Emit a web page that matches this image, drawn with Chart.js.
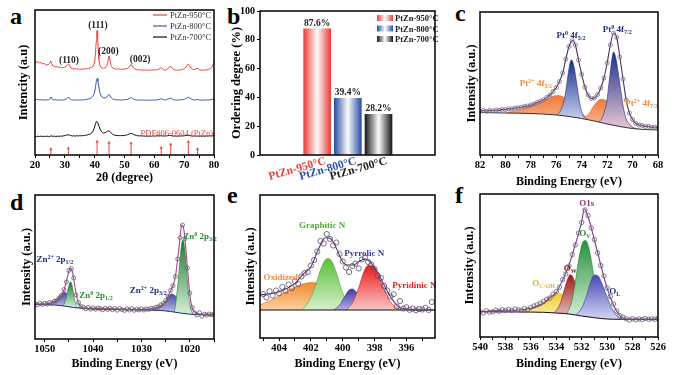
<!DOCTYPE html>
<html>
<head>
<meta charset="utf-8">
<script src="https://cdn.jsdelivr.net/npm/chart.js@4.4.1/dist/chart.umd.min.js"></script>
<style>
body { margin: 0; background: #fff; width: 691px; height: 375px; position: relative; overflow: hidden; }
canvas { position: absolute; }
.tag { position: absolute; font: bold 24px "Liberation Serif", serif; line-height: 24px; color: #000; }
</style>
</head>
<body>
<div class="tag" style="left:10px;top:4px">a</div>
<div class="tag" style="left:227px;top:4px">b</div>
<div class="tag" style="left:455px;top:1px">c</div>
<div class="tag" style="left:10px;top:190px">d</div>
<div class="tag" style="left:227px;top:183px">e</div>
<div class="tag" style="left:455px;top:183px">f</div>
<canvas id="ca" width="228" height="190" style="left:0;top:0"></canvas>
<canvas id="cb" width="225" height="200" style="left:225px;top:0"></canvas>
<canvas id="cc" width="241" height="190" style="left:450px;top:0"></canvas>
<canvas id="cd" width="228" height="190" style="left:0;top:185px"></canvas>
<canvas id="ce" width="225" height="190" style="left:225px;top:185px"></canvas>
<canvas id="cf" width="241" height="190" style="left:450px;top:185px"></canvas>
<script>
// ---------- data ----------
// a: XRD patterns (2theta, intensity with offsets)
const xrdNames = ['PtZn-950°C', 'PtZn-800°C', 'PtZn-700°C'];
const xrdColors = ['#e8473f', '#3a5da8', '#111111'];
const xrd950 = [[20,93.5],[20.5,92.8],[21,93.2],[21.5,92],[22,92.4],[22.5,91.2],[23,91.6],[23.5,90.5],[24,90],[24.5,90.6],[25,92],[25.3,94],[25.6,91.5],[26,89],[26.5,88.6],[27,88],[27.5,88.4],[28,87.5],[28.5,87.8],[29,87.2],[29.5,87.6],[30,87.8],[30.5,88.8],[31,90.5],[31.3,91],[31.7,89],[32,87],[32.5,86.4],[33,86],[33.5,86.5],[34,85.8],[34.5,86.2],[35,85.6],[35.5,86],[36,85.7],[36.5,86.3],[37,86],[37.5,86.5],[38,86.6],[38.5,87.2],[39,87.8],[39.5,89],[40,93],[40.3,102],[40.5,113],[40.7,123],[40.85,124.5],[41,117],[41.2,105],[41.4,96],[41.7,90],[42,88],[42.5,87],[43,86.8],[43.5,87.2],[44,88.5],[44.4,93],[44.7,98.5],[44.9,99],[45.2,94],[45.5,89.5],[46,87],[46.5,86.3],[47,86],[47.5,85.8],[48,86.2],[48.5,85.6],[49,85.9],[49.5,85.7],[50,86],[50.5,86.2],[51,86.5],[51.5,87.5],[52,90],[52.3,90.8],[52.6,89],[53,87],[53.5,86],[54,85.5],[54.5,85.2],[55,85],[55.5,85.3],[56,84.8],[56.5,85.1],[57,84.9],[57.5,85],[58,84.7],[58.5,85],[59,84.8],[59.5,85.1],[60,85],[60.5,85.3],[61,85.2],[61.5,85.8],[62,86.8],[62.4,87.5],[62.8,86],[63.2,85],[63.6,84.8],[64,85.2],[64.5,86.2],[65,88],[65.5,88.8],[66,86.8],[66.5,85.5],[67,85],[67.5,84.8],[68,84.9],[68.5,85],[69,85.2],[69.5,85.6],[70,86.2],[70.5,87.5],[71,89.5],[71.4,91],[71.8,89.5],[72.3,87],[72.8,85.8],[73.3,85.5],[73.8,85.8],[74.3,86.6],[74.7,86.4],[75.2,85.2],[75.7,84.8],[76.2,85],[76.7,84.8],[77.2,85],[77.7,85.2],[78.2,85.6],[78.7,86.2],[79.2,87.5],[79.6,90],[80,92.5]];
const xrd800 = [[20,55.8],[20.5,55.2],[21,55.6],[21.5,55],[22,55.4],[22.5,54.8],[23,55.3],[23.5,54.9],[24,55.2],[24.5,55],[25,56],[25.4,58],[25.8,55.6],[26.3,55],[27,55.3],[27.5,54.8],[28,55.1],[28.5,54.9],[29,55.2],[29.5,55],[30,55.4],[30.5,56],[31,57.2],[31.4,57.6],[31.8,56],[32.3,55.2],[33,54.9],[33.5,55.2],[34,54.8],[34.5,55.1],[35,54.9],[35.5,55.2],[36,55],[36.5,55.3],[37,55.5],[37.5,55.8],[38,56],[38.5,56.6],[39,57.5],[39.5,59],[40,63],[40.3,68.5],[40.6,74.5],[40.85,76.5],[41.1,74],[41.4,68],[41.7,63],[42,60],[42.5,57.8],[43,57.2],[43.5,57],[44,57.8],[44.4,59.5],[44.8,60.5],[45.2,59],[45.6,57],[46,56],[46.5,55.5],[47,55.2],[47.5,55],[48,55.3],[48.5,54.9],[49,55.2],[49.5,55],[50,55.3],[50.5,55.4],[51,55.6],[51.5,56.2],[52,57],[52.4,57.4],[52.8,56.3],[53.3,55.5],[54,55],[55,54.8],[55.5,55.1],[56,54.9],[56.5,55.1],[57,54.8],[57.5,55],[58,54.7],[58.5,55],[59,54.8],[59.5,55.1],[60,54.9],[60.5,55],[61,55.2],[61.5,55.4],[62,55.9],[62.5,56.2],[63,55.4],[63.5,55],[64,55.2],[64.5,55.8],[65,56.5],[65.5,57],[66,56],[66.5,55.3],[67,55],[67.5,54.9],[68,55.1],[68.5,55],[69,55.2],[69.5,55.3],[70,55.7],[70.5,56.3],[71,57.2],[71.5,57.8],[72,56.8],[72.5,55.8],[73,55.2],[73.5,55],[74,55.3],[74.5,55.6],[75,55],[75.5,54.8],[76,55],[77,54.9],[77.5,55.1],[78,55],[78.5,55.2],[79,55.4],[79.5,55.8],[80,56]];
const xrd700 = [[20,18.8],[20.5,18.2],[21,18.9],[21.5,18.4],[22,19],[22.5,18.3],[23,18.8],[23.5,18.5],[24,18.9],[24.5,18.4],[25,18.7],[25.5,19.2],[26,18.6],[26.5,18.9],[27,18.5],[27.5,18.9],[28,18.6],[28.5,19],[29,18.7],[29.5,19.2],[30,19.4],[30.5,19.8],[31,20.2],[31.5,20],[32,19.4],[32.5,19],[33,19.2],[33.5,18.9],[34,19.3],[34.5,19],[35,19.4],[35.5,19.1],[36,19.5],[36.5,19.3],[37,19.8],[37.5,20],[38,20.5],[38.5,21],[39,22],[39.5,24],[40,28],[40.3,31.5],[40.6,33.5],[40.9,33],[41.2,31],[41.5,28.5],[41.8,26],[42.2,23.8],[42.6,22.5],[43,22],[43.5,22.3],[44,23.2],[44.4,24],[44.8,24.2],[45.2,23.2],[45.6,21.8],[46,20.8],[46.5,20],[47,19.6],[47.5,19.4],[48,19.5],[48.5,19.2],[49,19.5],[49.5,19.3],[50,19.6],[50.5,19.8],[51,20.3],[51.5,21],[52,21.6],[52.5,21.4],[53,20.6],[53.5,20],[54,19.6],[54.5,19.2],[55,19],[55.5,19.3],[56,18.9],[56.5,19.1],[57,18.8],[57.5,19],[58,18.7],[58.5,19],[59,18.8],[59.5,19.1],[60,18.9],[60.5,19],[61,19.2],[61.5,19],[62,19.3],[62.5,19.1],[63,18.9],[63.5,19.1],[64,19],[64.5,19.3],[65,19.6],[65.5,19.5],[66,19.1],[66.5,18.9],[67,19],[67.5,18.8],[68,19],[68.5,18.9],[69,19.1],[69.5,19],[70,19.2],[70.5,19.4],[71,19.6],[71.5,19.7],[72,19.3],[72.5,19],[73,18.9],[73.5,19.1],[74,18.8],[74.5,19],[75,18.8],[75.5,19],[76,18.7],[76.5,19],[77,18.8],[77.5,19.1],[78,18.9],[78.5,19.2],[79,19],[79.5,19.3],[80,19.4]];
const pdfPos = [25.3, 31.2, 40.8, 44.8, 52.2, 62.3, 65.5, 71.4, 74.5];
const pdfHeight = [6, 6.7, 13.3, 12.3, 11.7, 7.3, 10.7, 13.3, 6];
const aTicks = [20, 25, 30, 35, 40, 45, 50, 55, 60, 65, 70, 75, 80];

// b: ordering degree
const bNames = ['PtZn-950°C', 'PtZn-800°C', 'PtZn-700°C'];
const bValues = [87.6, 39.4, 28.2];
const bColors = ['#e8403c', '#2b4ea5', '#1a1a1a'];

// c: Pt 4f
const cRaw = [[82,43.5],[81.75,44.5],[81.5,43.8],[81.25,44.6],[81,44.2],[80.75,45],[80.5,44.6],[80.25,45.6],[80,45.4],[79.75,46.2],[79.5,46],[79.25,47],[79,47.2],[78.75,47.8],[78.5,48.6],[78.25,49],[78,50],[77.75,51],[77.5,52.5],[77.25,53.8],[77,55.2],[76.75,57.5],[76.5,60],[76.25,63.5],[76,67.5],[75.75,73.5],[75.5,82],[75.25,96],[75,108.5],[74.75,114.5],[74.5,110],[74.25,95],[74,80.5],[73.75,68],[73.5,60],[73.25,56.5],[73,57],[72.75,60.5],[72.5,67],[72.25,77],[72,92],[71.75,110],[71.5,122],[71.25,117.5],[71,98],[70.75,76],[70.5,55],[70.25,42],[70,35.5],[69.75,31.5],[69.5,30],[69.25,29.5],[69,28.5],[68.75,28.8],[68.5,27.8],[68.25,28],[68,27.2]];
const cBack = [[82,42.5],[80,42],[78,41.5],[76,40],[75,38.5],[74,36.5],[73,34],[72,31],[71,28.5],[70,26.5],[69,25.5],[68,25]];
const cPt2a = [[80,42],[79,45],[78,49],[77,54],[76.5,57.5],[76,59.5],[75.6,59],[75.2,56],[74.8,53],[74.4,47],[74,42],[73.6,37],[73.2,34],[73,33.5]];
const cPt2b = [[74,36],[73.4,42],[73,50],[72.5,55.7],[72,54],[71.5,48],[71,40],[70.5,33],[70,28],[69.5,26],[69,25]];
const cPt0a = [[76,39.5],[75.6,46],[75.3,60],[75.1,78],[74.9,93],[74.8,95],[74.6,88],[74.4,72],[74.2,55],[74,43],[73.8,38],[73.5,35]];
const cPt0b = [[72.7,32],[72.3,40],[72,56],[71.8,78],[71.6,98],[71.5,103],[71.3,96],[71.1,80],[70.9,62],[70.7,46],[70.5,36],[70.2,30],[69.9,27],[69.5,25.5]];
const cTicks = [82, 81, 80, 79, 78, 77, 76, 75, 74, 73, 72, 71, 70, 69, 68];

// d: Zn 2p
const dRaw = [[1052,35.5],[1051.5,34.2],[1051,35.8],[1050.5,34.6],[1050,35.9],[1049.5,35],[1049,36.4],[1048.5,36],[1048,37.8],[1047.5,38.5],[1047,41.2],[1046.5,44],[1046,49.5],[1045.5,57],[1045,68.5],[1044.5,70.5],[1044,61],[1043.5,44],[1043,36.5],[1042.5,32.5],[1042,31.8],[1041.5,30.2],[1041,31.6],[1040.5,30],[1040,31.2],[1039.5,29.8],[1039,31],[1038.5,30.4],[1038,29.2],[1037.5,30.8],[1037,29.6],[1036.5,30.9],[1036,29.3],[1035.5,30.5],[1035,28.8],[1034.5,30.6],[1034,29.4],[1033.5,28.6],[1033,30.2],[1032.5,29],[1032,30.4],[1031.5,28.7],[1031,29.9],[1030.5,29.1],[1030,30.3],[1029.5,28.9],[1029,30.1],[1028.5,29.6],[1028,30.8],[1027.5,30.4],[1027,31.8],[1026.5,32.3],[1026,34],[1025.5,35.8],[1025,38.6],[1024.5,42.4],[1024,48.5],[1023.5,53.2],[1023,62.5],[1022.5,80],[1022,101.5],[1021.5,114],[1021,100.5],[1020.5,71],[1020,46],[1019.5,31.5],[1019,26],[1018.5,24],[1018,26.2],[1017.5,22.8],[1017,24.8],[1016.5,23.9],[1016,25],[1015.5,24.2],[1015,24.6]];
const dFit = [[1052,35],[1050,35],[1049,35.5],[1048,37],[1047,40.5],[1046,49],[1045.5,58],[1045,68],[1044.7,71],[1044.3,68],[1044,60],[1043.5,45],[1043,36],[1042.5,32],[1042,31],[1040,30.5],[1035,30],[1030,29.5],[1028,30],[1027,31],[1026,33.5],[1025,38],[1024.5,43],[1024,48],[1023.5,53],[1023,62],[1022.5,80],[1022,102],[1021.7,114],[1021.3,111],[1021,100],[1020.5,72],[1020,45],[1019.5,31],[1019,27],[1018,25],[1016,24.5],[1015,24]];
const dBack = [[1052,34.5],[1048,34],[1046,33],[1044,31.5],[1042,30.5],[1040,30],[1035,29.5],[1030,29],[1026,28.5],[1024,27.5],[1022,26],[1020,24.8],[1018,24.3],[1015,24]];
const dZn2a = [[1049.5,34],[1048.5,36.5],[1047.5,40],[1046.5,45],[1046,46.5],[1045.5,46],[1045,43.5],[1044.5,39.5],[1044,35],[1043.5,32],[1043,31]];
const dZn0a = [[1046.3,33],[1045.8,37],[1045.3,47],[1044.9,55],[1044.6,57],[1044.3,53],[1044,44],[1043.6,35],[1043.2,31]];
const dZn2b = [[1028,28.8],[1027,30.5],[1026,33],[1025,38],[1024.3,43],[1023.8,45],[1023.2,44],[1022.5,40],[1021.8,34],[1021,29],[1020,24.8]];
const dZn0b = [[1023.2,27],[1022.8,40],[1022.4,58],[1022,80],[1021.7,95],[1021.4,99],[1021.1,92],[1020.8,76],[1020.4,52],[1020,35],[1019.6,27],[1019.2,24.5]];
const dTicks = [1050, 1045, 1040, 1035, 1030, 1025, 1020, 1015];

// e: N 1s
const eRaw = [[405,44],[404.8,40.5],[404.6,46.8],[404.4,42.5],[404.2,47.5],[404,44.8],[403.8,51],[403.6,47.2],[403.4,53.5],[403.2,50],[403,56.8],[402.8,54],[402.6,61.5],[402.4,64.8],[402.2,66],[402,72.5],[401.8,78],[401.6,86.5],[401.4,97],[401.2,94.5],[401,104],[400.8,99],[400.6,92.5],[400.4,95.5],[400.2,84],[400,76.5],[399.8,70.5],[399.6,66],[399.4,72],[399.2,74.5],[399,69.5],[398.8,78.5],[398.6,80.5],[398.4,76],[398.2,73.5],[398,69],[397.8,62.5],[397.6,60],[397.4,52],[397.2,47.5],[397,41.5],[396.8,43.8],[396.6,31.5],[396.4,37],[396.2,29.5],[396,30.8],[395.8,28.2],[395.6,29.5],[395.4,27.8],[395.2,29],[395,28.5],[394.8,30.2],[394.6,28],[394.4,36]];
const eFit = [[405.2,43],[404,46.3],[403,54.7],[402.5,63.7],[402,71.3],[401.5,89.7],[401.1,100.3],[400.8,99.7],[400.4,89.7],[400,76.3],[399.7,73],[399.3,73],[399,76.3],[398.6,79],[398.2,74.7],[397.8,65.7],[397.4,53],[397,41.3],[396.5,31.3],[396,29],[395,28],[394.2,28]];
const eBack = [[405.2,28],[394.2,28]];
const eOxid = [[405.2,33],[404.5,38],[404,42],[403.5,47],[403,51],[402.5,54],[402,55.5],[401.5,54.5],[401,50.5],[400.5,44],[400,37],[399.5,31.5],[399,28.5],[398.6,27.5]];
const eGraph = [[402.6,28],[402.2,35],[401.8,48],[401.4,68],[401.1,78],[400.9,79.5],[400.6,74],[400.3,60],[400,45],[399.7,34],[399.3,28.5],[399,27.5]];
const ePyrr = [[400.6,27.5],[400.2,33],[399.9,41],[399.6,48],[399.4,49],[399.1,45],[398.8,37],[398.4,30.5],[398,27.5]];
const ePyri = [[399.8,28],[399.4,35],[399,50],[398.7,65],[398.4,72.5],[398.1,72],[397.8,64],[397.4,49],[397,36],[396.6,30],[396.2,27.5]];
const eTicks = [405, 404, 403, 402, 401, 400, 399, 398, 397, 396, 395];

// f: O 1s
const fRaw = [[540,25.5],[539.75,24],[539.5,26.2],[539.25,24.8],[539,25.2],[538.75,26.8],[538.5,25.8],[538.25,27.2],[538,26.5],[537.75,27.5],[537.5,26.6],[537.25,28],[537,27.2],[536.75,26.8],[536.5,28.4],[536.25,27.6],[536,29.6],[535.75,31],[535.5,32.2],[535.25,33.8],[535,35.5],[534.75,37.8],[534.5,39],[534.25,42.8],[534,45.5],[533.75,49.8],[533.5,57.5],[533.25,63],[533,71],[532.75,82.5],[532.5,92],[532.25,104],[532,114.5],[531.75,127],[531.5,121.5],[531.25,109],[531,97.5],[530.75,84],[530.5,71.5],[530.25,61],[530,49],[529.75,40.5],[529.5,33],[529.25,26],[529,21.5],[528.75,19.8],[528.5,18.2],[528.25,17],[528,18.3],[527.75,17.2],[527.5,18],[527.25,17.4],[527,18.5],[526.75,17.6],[526.5,18.2],[526.25,17.8],[526,18.8]];
const fFit = [[540,25.3],[538,26.7],[537,27],[536,28.7],[535,33.7],[534.5,39.3],[534,44.7],[533.5,57],[533,72],[532.5,92.7],[532,115.3],[531.8,128],[531.5,120.3],[531,97],[530.5,72],[530,48.7],[529.5,32],[529,21.3],[528.5,18],[528,17.7],[526,17.7]];
const fBack = [[540,25.3],[537,25],[535,24.7],[534,24],[533,23],[532,21],[531,19.3],[530,18],[529,17.7],[526,17.7]];
const fCOH = [[537,25],[536.5,27],[536,29],[535.5,32],[535,36],[534.5,40.5],[534,43.5],[533.5,42.5],[533,37],[532.5,30],[532,23.5],[531.5,19.5]];
const fOw = [[534.2,23.5],[533.7,33],[533.4,46],[533.1,58],[532.9,62.5],[532.6,57],[532.3,44],[532,31],[531.7,23],[531.4,19.5]];
const fOv = [[533.2,22.5],[532.8,35],[532.5,55],[532.2,80],[531.9,95],[531.7,96.5],[531.4,87],[531.1,65],[530.8,42],[530.5,27],[530.2,19]];
const fOl = [[532.5,21.5],[532,29],[531.6,42],[531.3,55],[531,62],[530.7,61],[530.4,53],[530,40],[529.6,28],[529.2,20.5],[528.8,17.5]];
const fTicks = [540, 539, 538, 537, 536, 535, 534, 533, 532, 531, 530, 529, 528, 527, 526];

// ---------- helpers ----------
const FONT = '"Liberation Serif", "Times New Roman", serif';
Chart.defaults.font.family = FONT;
Chart.defaults.color = '#000';
Chart.defaults.animation = false;
Chart.defaults.events = [];
Chart.defaults.devicePixelRatio = 1;
Chart.defaults.plugins.legend.display = false;
Chart.defaults.plugins.tooltip.enabled = false;
Chart.defaults.elements.point.radius = 0;

// text with super/subscripts, parts = [[text, ''|'sup'|'sub'], ...]
function rich(ctx, parts, x, y, size, color, align, weight) {
  const w8 = weight || 'bold';
  const big = `${w8} ${size}px ${FONT}`, small = `${w8} ${Math.round(size * 0.62)}px ${FONT}`;
  let w = 0;
  parts.forEach(([t, m]) => { ctx.font = m ? small : big; w += ctx.measureText(t).width; });
  let cx = align === 'left' ? x : align === 'right' ? x - w : x - w / 2;
  ctx.fillStyle = color;
  ctx.textAlign = 'left';
  ctx.textBaseline = 'alphabetic';
  parts.forEach(([t, m]) => {
    ctx.font = m ? small : big;
    const dy = m === 'sup' ? -size * 0.4 : m === 'sub' ? size * 0.22 : 0;
    ctx.fillText(t, cx, y + dy);
    cx += ctx.measureText(t).width;
  });
}

// frame + text notes placed in data units
function decor(notes, extra) {
  return {
    id: 'decor',
    afterDraw(chart) {
      const { ctx, chartArea: a, scales } = chart;
      ctx.save();
      (notes || []).forEach(n => {
        const px = scales.x.getPixelForValue(n.x), py = scales.y.getPixelForValue(n.y);
        rich(ctx, n.parts, px, py + n.size * 0.35, n.size, n.color, n.align, n.weight);
      });
      if (extra) extra(chart, ctx, a);
      ctx.lineWidth = 1.5;
      ctx.strokeStyle = '#000';
      ctx.strokeRect(a.left, a.top, a.right - a.left, a.bottom - a.top);
      ctx.restore();
    }
  };
}

// fitted component, vertical gradient from its peak down to its foot
function comp(data, c1, c2, edge) {
  const ys = data.map(p => p[1]);
  const top = Math.max(...ys), bot = Math.min(...ys);
  return {
    data, pointRadius: 0, borderWidth: 0.6, borderColor: edge || c1,
    cubicInterpolationMode: 'monotone', fill: 'origin',
    backgroundColor: c => {
      const ch = c.chart, y = ch.scales.y;
      if (!y || !ch.chartArea) return c1;
      const g = ch.ctx.createLinearGradient(0, y.getPixelForValue(top), 0, y.getPixelForValue(bot));
      g.addColorStop(0, c1);
      g.addColorStop(1, c2);
      return g;
    }
  };
}

// background line; white fill below it hides the component feet
function back(data, color) {
  return { data, pointRadius: 0, borderWidth: 1, borderColor: color, cubicInterpolationMode: 'monotone', fill: 'origin', backgroundColor: '#fff' };
}

function raw(data, color, r, line) {
  return {
    data, showLine: !!line, borderColor: line || color, borderWidth: 1.1,
    cubicInterpolationMode: 'monotone',
    pointRadius: r, pointBorderWidth: 0.8, pointBorderColor: color, pointBackgroundColor: 'rgba(255,255,255,0)'
  };
}

function fitLine(data, color) {
  return { data, pointRadius: 0, borderWidth: 1.1, borderColor: color, cubicInterpolationMode: 'monotone' };
}

function spectrum(o) {
  return {
    type: 'line',
    data: { datasets: o.datasets },
    options: {
      responsive: false,
      layout: { padding: { top: o.pad[0], right: o.pad[1], left: 0, bottom: 0 } },
      scales: {
        x: {
          type: 'linear', reverse: !!o.reverse, min: o.min, max: o.max,
          afterBuildTicks: s => { s.ticks = o.ticks.map(v => ({ value: v })); },
          afterFit: s => { s.height = o.xh; },
          ticks: { autoSkip: false, maxRotation: 0, minRotation: 0, padding: 1, font: { size: 10.5, weight: 'bold' },
            callback: v => (v % o.every === 0 ? v : '') },
          grid: { drawOnChartArea: false, tickLength: 3, color: '#000' },
          border: { display: false },
          title: { display: true, text: o.xtitle, font: { size: 12, weight: 'bold' }, padding: { top: 0, bottom: o.xtp } }
        },
        y: {
          min: 0, max: o.ymax,
          afterFit: s => { s.width = o.yw; },
          ticks: { display: false }, grid: { display: false }, border: { display: false },
          title: { display: true, text: o.ytitle, font: { size: 12.5, weight: 'bold' }, padding: { top: o.ytp, bottom: 0 } }
        }
      }
    },
    plugins: [decor(o.notes, o.extra)]
  };
}

// ---------- a ----------
const aNotes = [
  { x: 31.4, y: 95, parts: [['(110)', '']], size: 9.5, color: '#222' },
  { x: 41.1, y: 130, parts: [['(111)', '']], size: 9.5, color: '#222' },
  { x: 44.6, y: 104, parts: [['(200)', '']], size: 9.5, color: '#222' },
  { x: 55.2, y: 96, parts: [['(002)', '']], size: 9.5, color: '#222' },
  { x: 79.7, y: 22, parts: [['PDF#06-0604 (PtZn)', '']], size: 8.5, color: '#e8473f', align: 'right', weight: 'normal' }
];
const aLegend = (chart, ctx, a) => {
  xrdNames.forEach((n, i) => {
    const y = a.top + 5 + i * 11;
    ctx.strokeStyle = xrdColors[i];
    ctx.lineWidth = 1.2;
    ctx.beginPath(); ctx.moveTo(a.right - 61, y); ctx.lineTo(a.right - 47, y); ctx.stroke();
    rich(ctx, [[n, '']], a.right - 44, y + 3, 8.5, '#333', 'left', 'normal');
  });
};
new Chart(document.getElementById('ca'), spectrum({
  min: 20, max: 80, ticks: aTicks, every: 10, ymax: 145,
  pad: [10, 14], yw: 35, xh: 35, xtp: 5, ytp: 16,
  xtitle: '2θ (degree)', ytitle: 'Intencity (a.u)',
  notes: aNotes, extra: aLegend,
  datasets: [
    { data: xrd950, borderColor: xrdColors[0], borderWidth: 1, pointRadius: 0 },
    { data: xrd800, borderColor: xrdColors[1], borderWidth: 1, pointRadius: 0 },
    { data: xrd700, borderColor: xrdColors[2], borderWidth: 1, pointRadius: 0 },
    { data: pdfPos.map((x, i) => [x, pdfHeight[i]]), showLine: false, pointStyle: 'triangle', pointRadius: 1.4,
      pointBackgroundColor: '#e8473f', pointBorderColor: '#e8473f', pointBorderWidth: 0.5 },
    { data: pdfPos.flatMap((x, i) => [[x, 0], [x, pdfHeight[i]], [x, null]]), borderColor: '#e8473f', borderWidth: 1, spanGaps: false, pointRadius: 0 }
  ]
}));

// ---------- b ----------
const bExtra = (chart, ctx, a) => {
  const bars = chart.getDatasetMeta(0).data;
  bars.forEach((el, i) => {
    rich(ctx, [[bValues[i].toFixed(1) + '%', '']], el.x, el.y - 3, 9.5, '#222', 'center');
    // rotated category label under each bar
    ctx.save();
    ctx.translate(el.x + 7, a.bottom + 1);
    ctx.rotate(-16 * Math.PI / 180);
    rich(ctx, [[bNames[i], '']], 0, 8, 11.5, bColors[i], 'right');
    ctx.restore();
  });
  bNames.forEach((n, i) => {
    const y = a.top + 4 + i * 10.5, x = a.right - 58;
    const g = ctx.createLinearGradient(x, 0, x + 16, 0);
    g.addColorStop(0, bColors[i]); g.addColorStop(0.5, '#fff'); g.addColorStop(1, bColors[i]);
    ctx.fillStyle = g;
    ctx.fillRect(x, y, 16, 6);
    rich(ctx, [[n, '']], x + 18, y + 6, 8.5, '#222', 'left');
  });
};
new Chart(document.getElementById('cb'), {
  type: 'bar',
  data: {
    datasets: [{
      data: bValues.map((v, i) => ({ x: i, y: v })),
      barThickness: 27,
      backgroundColor: c => {
        const ch = c.chart, xs = ch.scales.x;
        const i = c.dataIndex;
        if (!xs || i === undefined || !ch.chartArea) return bColors[0];
        const px = xs.getPixelForValue(i);
        const g = ch.ctx.createLinearGradient(px - 13.5, 0, px + 13.5, 0);
        g.addColorStop(0, bColors[i]);
        g.addColorStop(0.5, '#fbfbfb');
        g.addColorStop(1, bColors[i]);
        return g;
      }
    }]
  },
  options: {
    responsive: false,
    layout: { padding: { top: 11, right: 15, left: 0, bottom: 0 } },
    scales: {
      x: {
        type: 'linear', min: -0.913, max: 2.891,
        afterBuildTicks: s => { s.ticks = [0, 1, 2].map(v => ({ value: v })); },
        afterFit: s => { s.height = 45; },
        ticks: { display: false },
        grid: { display: false }, border: { display: false }
      },
      y: {
        min: 0, max: 100,
        afterFit: s => { s.width = 35; },
        ticks: { stepSize: 20, padding: 2, font: { size: 10, weight: 'bold' } },
        grid: { drawOnChartArea: false, tickLength: 3, color: '#000' }, border: { display: false },
        title: { display: true, text: 'Ordering degree (%)', font: { size: 12.5, weight: 'bold' }, padding: { top: 4, bottom: 0 } }
      }
    }
  },
  plugins: [decor([], bExtra)]
});

// ---------- c ----------
const navy = '#1e2f7a';
const cNotes = [
  { x: 74.84, y: 120, parts: [['Pt', ''], ['0', 'sup'], [' 4f', ''], ['5/2', 'sub']], size: 9, color: navy },
  { x: 71.2, y: 126, parts: [['Pt', ''], ['0', 'sup'], [' 4f', ''], ['7/2', 'sub']], size: 9, color: navy },
  { x: 77.6, y: 72, parts: [['Pt', ''], ['2+', 'sup'], [' 4f', ''], ['5/2', 'sub']], size: 9, color: '#f08a3c' },
  { x: 69.3, y: 52, parts: [['Pt', ''], ['2+', 'sup'], [' 4f', ''], ['7/2', 'sub']], size: 9, color: '#f08a3c' }
];
new Chart(document.getElementById('cc'), spectrum({
  min: 68, max: 82, reverse: true, ticks: cTicks, every: 2, ymax: 143,
  pad: [12, 33], yw: 30, xh: 35, xtp: 1, ytp: 14,
  xtitle: 'Binding Energy (eV)', ytitle: 'Intensity (a.u.)', notes: cNotes,
  datasets: [
    raw(cRaw, '#7a6a8a', 2, '#4e2f5e'),
    back(cBack, '#3a2a3a'),
    comp(cPt0b, '#1b2f8a', '#e9c9d3', '#1b2f8a'),
    comp(cPt0a, '#1b2f8a', '#c9d2f0', '#1b2f8a'),
    comp(cPt2b, '#f07a3a', '#f7c2a4', '#e0703a'),
    comp(cPt2a, '#f07a3a', '#f6b488', '#e0703a')
  ]
}));

// ---------- d ----------
const green = '#2e8b3e';
const dNotes = [
  { x: 1047.9, y: 80, parts: [['Zn', ''], ['2+', 'sup'], [' 2p', ''], ['1/2', 'sub']], size: 9, color: navy },
  { x: 1039.4, y: 44, parts: [['Zn', ''], ['0', 'sup'], [' 2p', ''], ['1/2', 'sub']], size: 9, color: green },
  { x: 1028.6, y: 49, parts: [['Zn', ''], ['2+', 'sup'], [' 2p', ''], ['3/2', 'sub']], size: 9, color: navy },
  { x: 1017.9, y: 103, parts: [['Zn', ''], ['0', 'sup'], [' 2p', ''], ['3/2', 'sub']], size: 9, color: green }
];
new Chart(document.getElementById('cd'), spectrum({
  min: 1015, max: 1052, reverse: true, ticks: dTicks, every: 10, ymax: 144,
  pad: [10, 14], yw: 35, xh: 36, xtp: 4, ytp: 19,
  xtitle: 'Binding Energy (eV)', ytitle: 'Intensity (a.u.)', notes: dNotes,
  datasets: [
    raw(dRaw, '#6a5a6a', 2),
    fitLine(dFit, '#a04a8f'),
    back(dBack, '#1e2a7a'),
    comp(dZn0b, '#1f7a2e', '#d6efd8', '#1f7a2e'),
    comp(dZn2b, '#4a4aa6', '#c9c9ee', '#3a3a96'),
    comp(dZn0a, '#1f7a2e', '#d6efd8', '#1f7a2e'),
    comp(dZn2a, '#4a4aa6', '#c9c9ee', '#3a3a96')
  ]
}));

// ---------- e ----------
const eNotes = [
  { x: 401.3, y: 113, parts: [['Graphitic N', '']], size: 9, color: '#4caf30' },
  { x: 398.65, y: 85, parts: [['Pyrrolic N', '']], size: 9, color: '#3a3a9a' },
  { x: 403.9, y: 61, parts: [['Oxidized', '']], size: 9, color: '#f08a3c' },
  { x: 395.5, y: 53, parts: [['Pyridinic N', '']], size: 9, color: '#e02020' }
];
new Chart(document.getElementById('ce'), spectrum({
  min: 394.2, max: 405.2, reverse: true, ticks: eTicks, every: 2, ymax: 143,
  pad: [10, 15], yw: 35, xh: 37, xtp: 4, ytp: 18,
  xtitle: 'Binding Energy (eV)', ytitle: 'Intensity (a.u.)', notes: eNotes,
  datasets: [
    raw(eRaw, '#5a4a6a', 2.6),
    fitLine(eFit, '#5a2f6e'),
    back(eBack, '#111'),
    comp(ePyri, '#ea1c1c', '#f9c9c9', '#d01818'),
    comp(ePyrr, '#40369c', '#b8b3e6', '#40369c'),
    comp(eGraph, '#5bbf3a', '#d8f0cc', '#4aa52e'),
    comp(eOxid, '#f28a2e', '#fbd1a5', '#e07a20')
  ]
}));

// ---------- f ----------
const fNotes = [
  { x: 531.6, y: 134, parts: [['O1s', '']], size: 9, color: '#8b3a8b' },
  { x: 531.75, y: 104, parts: [['O', ''], ['V', 'sub']], size: 9, color: green },
  { x: 532.9, y: 69, parts: [['O', ''], ['W', 'sub']], size: 9, color: '#8b1a1a' },
  { x: 535.0, y: 54, parts: [['O', ''], ['C-OH', 'sub']], size: 9, color: '#e0b040' },
  { x: 529.4, y: 46, parts: [['O', ''], ['L', 'sub']], size: 9, color: navy }
];
new Chart(document.getElementById('cf'), spectrum({
  min: 526, max: 540, reverse: true, ticks: fTicks, every: 2, ymax: 143,
  pad: [9, 33], yw: 30, xh: 38, xtp: 4, ytp: 12,
  xtitle: 'Binding Energy (eV)', ytitle: 'Intensity (a.u.)', notes: fNotes,
  datasets: [
    raw(fRaw, '#6a5a7a', 2.2),
    fitLine(fFit, '#7a3a8a'),
    back(fBack, '#111'),
    comp(fOl, '#4646b8', '#d6d6f4', '#3a3aa0'),
    comp(fOv, '#24913a', '#d7efd9', '#1f7a2e'),
    comp(fOw, '#9a1c1c', '#e8c0c0', '#8a1818'),
    comp(fCOH, '#f0d030', '#f7efb0', '#d8b820')
  ]
}));
</script>
</body>
</html>
